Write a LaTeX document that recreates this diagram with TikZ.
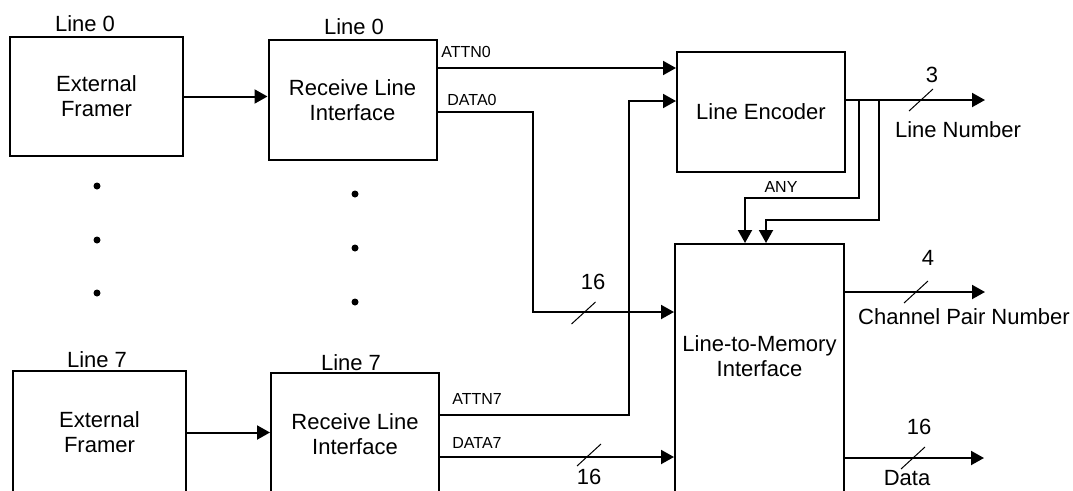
\documentclass[tikz,border=0pt]{standalone}
\usepackage{fontspec}
\setmainfont{Liberation Sans}
\usepackage{tikz}
\usetikzlibrary{arrows.meta,positioning}
\newcommand{\bigtxt}{\fontsize{22}{25}\selectfont}
\newcommand{\smalltxt}{\fontsize{16}{18}\selectfont}
\tikzset{
  box/.style={draw, line width=2pt, inner sep=0pt, align=center, font=\bigtxt},
  wire/.style={line width=2pt},
  arr/.style={wire, -{Triangle[length=13pt,width=14pt]}},
  lab/.style={font=\bigtxt, inner sep=0pt, align=center},
  labs/.style={font=\smalltxt, inner sep=0pt},
  dot/.style={circle, fill, inner sep=0pt, minimum size=7pt},
  busmark/.style={line width=1pt},
}
\begin{document}
\begin{tikzpicture}[x=1pt,y=-1pt]
  \useasboundingbox (0,0) rectangle (1073,490);
  \clip (0,0) rectangle (1073,490);
  \node[box, minimum width=173pt, minimum height=119pt] (fr0) at (96.5,96.5) {External\\Framer};
  \node[box, minimum width=168pt, minimum height=120pt] (rli0) at (352.5,100) {Receive Line\\Interface};
  \node[box, minimum width=173pt, minimum height=123pt] (fr7) at (99.5,432.5) {External\\Framer};
  \node[box, minimum width=168pt, minimum height=123pt] (rli7) at (355,434.5) {Receive Line\\Interface};
  \node[box, minimum width=168pt, minimum height=120pt] (enc) at (761,112) {Line Encoder};
  \node[box, minimum width=169pt, minimum height=270pt, anchor=north] (ltm) at (759.5,243) {};
  \node[lab] (ltmtxt) at (759.5,356) {Line-to-Memory\\Interface};
  \node[lab] (fr0lab) at (85,24) {Line 0};
  \node[lab] (rli0lab) at (354,27) {Line 0};
  \node[lab] (fr7lab) at (97,360) {Line 7};
  \node[lab] (rli7lab) at (351,363) {Line 7};
  \foreach \y in {186,240,293} \node[dot] (dfr\y) at (97,\y) {};
  \foreach \y in {194,248,302} \node[dot] (drli\y) at (355,\y) {};
  \coordinate (d0) at (533,312);
  \coordinate (a7) at (629,101);
  \coordinate (ln) at (985,100);
  \coordinate (b1) at (859,198);
  \coordinate (b2) at (879,220);
  \coordinate (cp) at (985,292);
  \coordinate (dt) at (984,458);
  \draw[arr] (fr0.east) -- (fr0.east -| rli0.west);
  \draw[arr] (fr7.east) -- (fr7.east -| rli7.west);
  \draw[arr] ([yshift=32pt]rli0.east) -- ([yshift=32pt]rli0.east -| enc.west);
  \draw[arr] ([yshift=-12pt]rli0.east) -| (d0) -- (d0 -| ltm.west);
  \draw[arr] ([yshift=19.5pt]rli7.east) -| (a7) -- (a7 -| enc.west);
  \draw[arr] ([yshift=-22.5pt]rli7.east) -- ([yshift=-22.5pt]rli7.east -| ltm.west);
  \draw[arr] (enc.east |- ln) -- (ln);
  \draw[arr] (b1 |- ln) -- (b1) -| ([xshift=-14.5pt]ltm.north);
  \draw[arr] (b2 |- ln) -- (b2) -| ([xshift=6.5pt]ltm.north);
  \draw[arr] (cp -| ltm.east) -- (cp);
  \draw[arr] (dt -| ltm.east) -- (dt);
  \foreach \x/\y in {583.5/313, 589/455, 921/100, 916/292, 913/458}
    \draw[busmark] (\x,\y) +(-12,11) -- +(12,-11);
  \node[labs] (attn0) at (466,52) {ATTN0};
  \node[labs] (data0) at (472,100) {DATA0};
  \node[labs] (attn7) at (477,399) {ATTN7};
  \node[labs] (data7) at (477,443) {DATA7};
  \node[labs] (any) at (781,187) {ANY};
  \node[lab] (w16a) at (593,282) {16};
  \node[lab] (w16b) at (589,477) {16};
  \node[lab] (w3) at (932,75) {3};
  \node[lab] (w4) at (928,258) {4};
  \node[lab] (w16c) at (919,427) {16};
  \node[lab] (lnum) at (958,130) {Line Number};
  \node[lab] (cpnum) at (964,317) {Channel Pair Number};
  \node[lab] (data) at (907,478) {Data};
\end{tikzpicture}
\end{document}
